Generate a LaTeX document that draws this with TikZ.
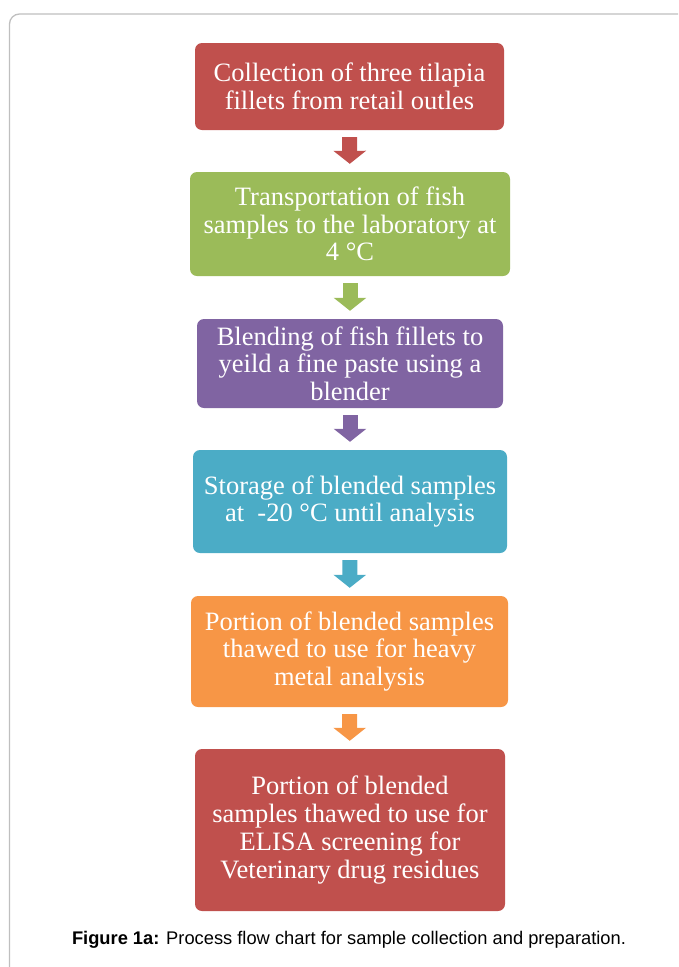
\documentclass[tikz,border=0pt]{standalone}
\usepackage{fontspec}
\setmainfont{Liberation Serif}
\newfontfamily\capfont{Liberation Sans}
\usetikzlibrary{arrows.meta}
\definecolor{boxred}{HTML}{C0504D}
\definecolor{boxgreen}{HTML}{9BBB59}
\definecolor{boxpurple}{HTML}{8064A2}
\definecolor{boxcyan}{HTML}{4BACC6}
\definecolor{boxorange}{HTML}{F79646}
\tikzset{
  stepbox/.style={rounded corners=7pt,text=white,align=center,inner sep=0pt,
    font=\fontsize{26.5}{27.7}\selectfont},
  flow/.style={line width=15pt,shorten <=7pt,shorten >=8pt,
    -{Triangle[width=32pt,length=13pt]}}
}
\begin{document}
\begin{tikzpicture}[x=1pt,y=-1pt]
\useasboundingbox (0,0) rectangle (678,967);
\clip (0,0) rectangle (678,967);
\draw[black!25,line width=1.3pt,rounded corners=10pt] (9.5,1007) -- (9.5,14) -- (700,14);
\node[stepbox,fill=boxred,minimum width=309pt,minimum height=87pt] (collect) at (349.5,86.5)
  {Collection of three tilapia\\fillets from retail outles};
\node[stepbox,fill=boxgreen,minimum width=320pt,minimum height=104pt] (transport) at (350,224)
  {Transportation of fish\\samples to the laboratory at\\4 °C};
\node[stepbox,fill=boxpurple,minimum width=306pt,minimum height=89pt] (blend) at (350,363.5)
  {Blending of fish fillets to\\yeild a fine paste using a\\blender};
\node[stepbox,fill=boxcyan,minimum width=314pt,minimum height=103pt] (store) at (350,501.5)
  {Storage of blended samples\\at\ \ -20 °C until analysis};
\node[stepbox,fill=boxorange,minimum width=317pt,minimum height=111pt] (metal) at (349.5,651.5)
  {Portion of blended samples\\thawed to use for heavy\\metal analysis};
\node[stepbox,fill=boxred,minimum width=310pt,minimum height=162pt] (elisa) at (350,830)
  {Portion of blended\\samples thawed to use for\\ELISA screening for\\Veterinary drug residues};
\draw[flow,boxred] (collect) -- (transport);
\draw[flow,boxgreen] (transport) -- (blend);
\draw[flow,boxpurple] (blend) -- (store);
\draw[flow,boxcyan] (store) -- (metal);
\draw[flow,boxorange] (metal) -- (elisa);
\node[font=\capfont\fontsize{18.3}{20}\selectfont] (caption) at (349,940)
  {\textbf{Figure 1a:} Process flow chart for sample collection and preparation.};
\end{tikzpicture}
\end{document}
